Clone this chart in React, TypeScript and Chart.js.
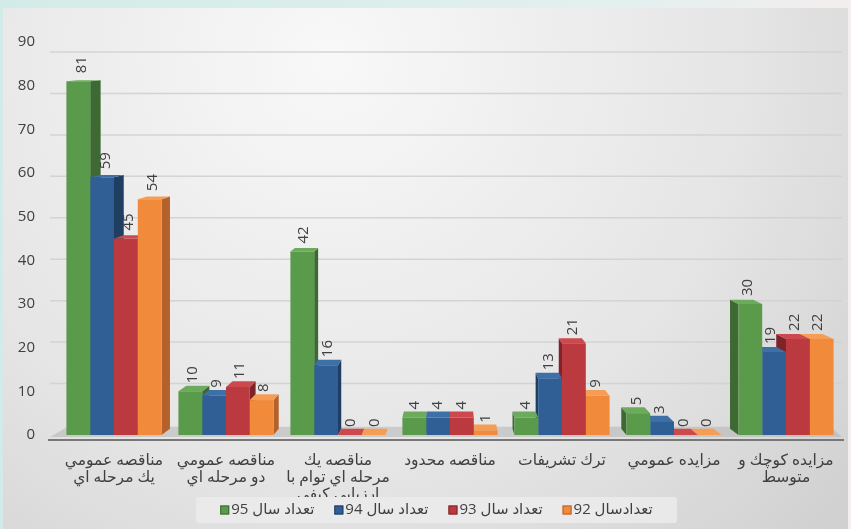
import React, { useEffect, useRef } from 'react';
import { Chart, registerables } from 'chart.js';

Chart.register(...registerables);

const categories: (string | string[])[] = [
  ['مناقصه عمومي', 'يك مرحله اي'],
  ['مناقصه عمومي', 'دو مرحله اي'],
  ['مناقصه يك', 'مرحله اي توام با', 'ارزيابي كيفي'],
  'مناقصه محدود',
  'ترك تشريفات',
  'مزايده عمومي',
  ['مزايده كوچك و', 'متوسط'],
];

const seriesNames = ['تعداد سال 95', 'تعداد سال 94', 'تعداد سال 93', 'تعدادسال 92'];
const values95 = [81, 10, 42, 4, 4, 5, 30];
const values94 = [59, 9, 16, 4, 13, 3, 19];
const values93 = [45, 11, 0, 4, 21, 0, 22];
const values92 = [54, 8, 0, 1, 9, 0, 22];
const yMin = 0;
const yMax = 90;
const yStep = 10;

const frontColors = ['#5a9a4b', '#2f5f94', '#bb3a3f', '#f18a3a'];
const sideColors = ['#3d6932', '#1f3e62', '#7e2428', '#b5622a'];
const topColors = ['#6cab5d', '#3d70a7', '#cc4a4e', '#f59d55'];

const FONT = '"Open Sans", "DejaVu Sans", sans-serif';
const TEXT = '#404040';

// fake perspective
const VX = 450, TX = 0.029, VY = 14, TY = 0.015;
const dX = (x: number) => TX * (VX - x);
const dY = (y: number) => TY * (VY - y);

const poly = (ctx: CanvasRenderingContext2D, pts: number[][], fill: string) => {
  ctx.beginPath();
  ctx.moveTo(pts[0][0], pts[0][1]);
  for (let i = 1; i < pts.length; i++) ctx.lineTo(pts[i][0], pts[i][1]);
  ctx.closePath();
  ctx.fillStyle = fill;
  ctx.fill();
};

const deco = {
  id: 'deco',
  beforeDraw(chart: any) {
    const { ctx, width, height } = chart;
    ctx.save();
    const bg = ctx.createLinearGradient(0, 0, width, 0);
    bg.addColorStop(0, '#d3ebe8');
    bg.addColorStop(0.75, '#e3f0ee');
    bg.addColorStop(1, '#f4eeee');
    ctx.fillStyle = bg;
    ctx.fillRect(0, 0, width, height);
    const g = ctx.createRadialGradient(330, 60, 10, 330, 60, 820);
    g.addColorStop(0, '#f8f8f8');
    g.addColorStop(0.5, '#e5e5e5');
    g.addColorStop(1, '#c6c6c6');
    ctx.fillStyle = g;
    ctx.fillRect(3, 8, width - 6, height - 8);
    ctx.restore();
  },
  beforeDatasetsDraw(chart: any) {
    const { ctx, chartArea } = chart;
    const ys = chart.scales.y;
    ctx.save();
    // back wall gridlines
    ctx.strokeStyle = 'rgba(208,208,208,0.9)';
    ctx.lineWidth = 1.5;
    for (let v = yMin + yStep; v <= yMax; v += yStep) {
      const yf = ys.getPixelForValue(v);
      const yb = 238 + (yf - 238) * 0.949;
      ctx.beginPath();
      ctx.moveTo(50, yb);
      ctx.lineTo(chartArea.right, yb);
      ctx.stroke();
    }
    // floor
    const yb0 = ys.getPixelForValue(0);
    const fl = chartArea.left - 8;
    const fr = chartArea.right;
    poly(ctx, [[fl, yb0 + 2], [fr, yb0 + 2], [fr + dX(fr), yb0 + dY(yb0) - 2], [fl + dX(fl) + 6, yb0 + dY(yb0) - 2]], 'rgba(175,175,175,0.5)');
    ctx.fillStyle = '#777777';
    ctx.fillRect(fl - 2, yb0 + 4, fr - fl + 4, 2);
    // bar sides and tops
    const items: any[] = [];
    chart.data.datasets.forEach((ds: any, di: number) => {
      const meta = chart.getDatasetMeta(di);
      meta.data.forEach((el: any) => {
        const p = el.getProps(['x', 'y', 'base', 'width'], true);
        items.push({ di, ...p });
      });
    });
    items.sort((a, b) => Math.abs(b.x - VX) - Math.abs(a.x - VX));
    for (const it of items) {
      const x0 = it.x - it.width / 2;
      const x1 = it.x + it.width / 2;
      const yt = Math.min(it.y, it.base);
      const yb = it.base;
      if (it.x < VX) {
        poly(ctx, [[x1, yt], [x1 + dX(x1), yt + dY(yt)], [x1 + dX(x1), yb + dY(yb)], [x1, yb]], sideColors[it.di]);
      } else {
        poly(ctx, [[x0, yt], [x0 + dX(x0), yt + dY(yt)], [x0 + dX(x0), yb + dY(yb)], [x0, yb]], sideColors[it.di]);
      }
      poly(ctx, [[x0, yt], [x1, yt], [x1 + dX(x1), yt + dY(yt)], [x0 + dX(x0), yt + dY(yt)]], topColors[it.di]);
    }
    ctx.restore();
  },
  afterDatasetsDraw(chart: any) {
    const { ctx } = chart;
    chart.data.datasets.forEach((ds: any, di: number) => {
      const meta = chart.getDatasetMeta(di);
      meta.data.forEach((el: any, i: number) => {
        const p = el.getProps(['x', 'y'], true);
        const tx = p.x + dX(p.x) * 0.35;
        const ty = p.y - 8;
        ctx.save();
        ctx.setTransform(0, -1, 1, 0, tx, ty);
        ctx.fillStyle = TEXT;
        ctx.font = `15px ${FONT}`;
        ctx.textAlign = 'left';
        ctx.textBaseline = 'middle';
        ctx.direction = 'ltr';
        ctx.fillText(String(ds.data[i]), 0, 0);
        ctx.restore();
      });
    });
  },
  afterDraw(chart: any) {
    const { ctx } = chart;
    ctx.save();
    // legend box
    ctx.fillStyle = 'rgba(234,234,234,0.92)';
    ctx.beginPath();
    (ctx as any).roundRect ? (ctx as any).roundRect(196, 497, 481, 26, 3) : ctx.rect(196, 497, 481, 26);
    ctx.fill();
    ctx.font = `15px ${FONT}`;
    ctx.textBaseline = 'middle';
    ctx.direction = 'rtl';
    ctx.textAlign = 'left';
    const box = 9, gapIn = 2, gapOut = 20;
    const ds = chart.data.datasets;
    const widths = ds.map((d: any) => box + gapIn + ctx.measureText(d.label).width);
    const total = widths.reduce((a: number, b: number) => a + b, 0) + gapOut * (ds.length - 1);
    let x = 436.5 - total / 2;
    const cy = 510;
    ds.forEach((d: any, i: number) => {
      ctx.fillStyle = frontColors[i];
      ctx.fillRect(x, cy - box / 2, box, box);
      ctx.strokeStyle = sideColors[i];
      ctx.lineWidth = 1;
      ctx.strokeRect(x + 0.5, cy - box / 2 + 0.5, box - 1, box - 1);
      ctx.fillStyle = TEXT;
      ctx.fillText(d.label, x + box + gapIn, cy);
      x += widths[i] + gapOut;
    });
    ctx.restore();
  },
};

export default function App() {
  const ref = useRef<HTMLCanvasElement>(null);
  useEffect(() => {
    if (!ref.current) return;
    const seriesValues = [values95, values94, values93, values92];
    const chart = new Chart(ref.current, {
      type: 'bar',
      data: {
        labels: categories,
        datasets: seriesNames.map((name, i) => ({
          label: name,
          data: seriesValues[i],
          backgroundColor: frontColors[i],
          borderWidth: 0,
          categoryPercentage: 0.85,
          barPercentage: 1.0,
        })),
      },
      options: {
        responsive: false,
        animation: false,
        devicePixelRatio: 1,
        layout: { padding: { left: 0, right: 5, top: 42, bottom: 32 } },
        plugins: { legend: { display: false }, tooltip: { enabled: false } },
        scales: {
          x: {
            grid: { display: false, drawTicks: false },
            border: { display: false },
            ticks: { padding: 17, color: TEXT, font: { size: 15.5, family: FONT, lineHeight: '17px' }, maxRotation: 0, autoSkip: false },
            afterFit: (s: any) => { s.height = 62; },
          },
          y: {
            min: yMin,
            max: yMax,
            grid: { display: false, drawTicks: false },
            border: { display: false },
            ticks: { stepSize: yStep, padding: 23, color: TEXT, font: { size: 15, family: FONT } },
            afterFit: (s: any) => { s.width = 58; },
          },
        },
      },
      plugins: [deco],
    });
    return () => chart.destroy();
  }, []);
  return (
    <div style={{ position: 'fixed', left: 0, top: 0, width: 851, height: 529 }}>
      <canvas ref={ref} width={851} height={529} style={{ display: 'block' }} />
    </div>
  );
}
